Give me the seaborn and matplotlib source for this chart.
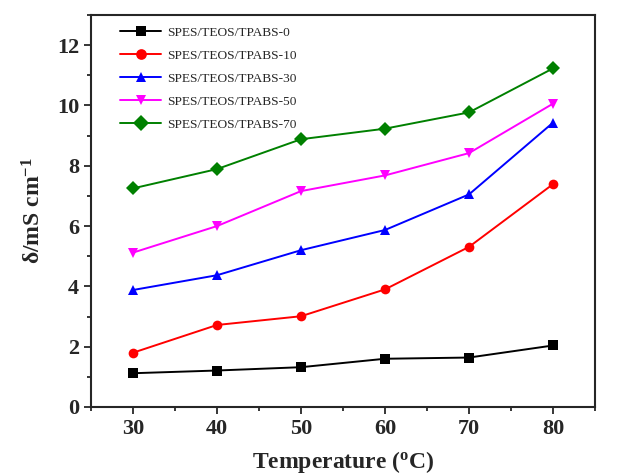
import matplotlib
matplotlib.use("Agg")
import matplotlib.pyplot as plt
import seaborn as sns
import pandas as pd
from matplotlib.ticker import MultipleLocator

temperature = [30, 40, 50, 60, 70, 80]
series_names = ["SPES/TEOS/TPABS-0", "SPES/TEOS/TPABS-10", "SPES/TEOS/TPABS-30",
                "SPES/TEOS/TPABS-50", "SPES/TEOS/TPABS-70"]
tpabs_0 = [1.12, 1.21, 1.32, 1.60, 1.64, 2.04]
tpabs_10 = [1.80, 2.72, 3.01, 3.90, 5.31, 7.39]
tpabs_30 = [3.88, 4.37, 5.20, 5.87, 7.05, 9.43]
tpabs_50 = [5.12, 6.00, 7.16, 7.68, 8.42, 10.06]
tpabs_70 = [7.25, 7.89, 8.88, 9.23, 9.77, 11.23]

colors = ["black", "red", "blue", "magenta", "green"]
markers = ["s", "o", "^", "v", "D"]

rows = []
for name, vals in zip(series_names, [tpabs_0, tpabs_10, tpabs_30, tpabs_50, tpabs_70]):
    for t, v in zip(temperature, vals):
        rows.append({"T": t, "cond": v, "sample": name})
df = pd.DataFrame(rows)

sns.set_style("ticks")
plt.rcParams["font.family"] = ["Liberation Serif", "DejaVu Serif"]
plt.rcParams["mathtext.fontset"] = "custom"
plt.rcParams["mathtext.rm"] = "Liberation Serif"
plt.rcParams["mathtext.bf"] = "Liberation Serif:bold"
plt.rcParams["mathtext.it"] = "Liberation Serif:italic"

fig = plt.figure(figsize=(6.29, 4.75), dpi=100)
ax = fig.add_axes([91 / 629, 1 - 407 / 475, 504 / 629, 392 / 475])

sns.lineplot(data=df, x="T", y="cond", hue="sample", style="sample",
             hue_order=series_names, style_order=series_names,
             palette=colors, markers=markers, dashes=False,
             markersize=7, linewidth=1.4, markeredgewidth=0, ax=ax)

ax.set_xlim(25, 85)
ax.set_ylim(0, 13)
ax.xaxis.set_major_locator(MultipleLocator(10))
ax.xaxis.set_minor_locator(MultipleLocator(5))
ax.yaxis.set_major_locator(MultipleLocator(2))
ax.yaxis.set_minor_locator(MultipleLocator(1))
ax.tick_params(which="major", direction="out", length=5, width=1.3, labelsize=16)
ax.tick_params(which="minor", direction="out", length=3, width=1.3)
for lab in ax.get_xticklabels() + ax.get_yticklabels():
    lab.set_fontweight("bold")
for sp in ax.spines.values():
    sp.set_linewidth(1.5)
    sp.set_visible(True)

ax.set_xlabel(r"Temperature ($\mathbf{^{o}}$C)", fontsize=17, fontweight="bold", labelpad=7)
ax.set_ylabel(r"δ/mS cm$\mathbf{^{-1}}$", fontsize=17, fontweight="bold", labelpad=8)

leg = ax.legend(loc="upper left", frameon=False, fontsize=9.6, handlelength=3.1,
                handletextpad=0.4, labelspacing=0.8, borderpad=0, borderaxespad=0,
                bbox_to_anchor=(0.0575, 0.97), markerscale=1.1)

fig.savefig("out.png", dpi=100)
